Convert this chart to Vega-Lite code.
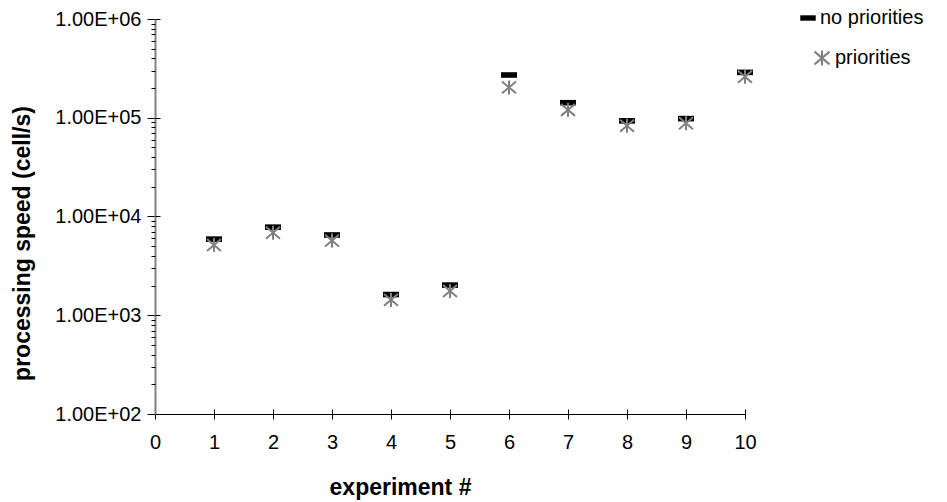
{
  "$schema": "https://vega.github.io/schema/vega-lite/v6.json",
  "autosize": {"type": "none"},
  "width": 590,
  "height": 395,
  "padding": {"left": 155, "top": 19, "right": 202, "bottom": 88},
  "background": "white",
  "config": {
    "view": {"stroke": null},
    "font": "Liberation Sans",
    "axis": {"labelFont": "Liberation Sans", "titleFont": "Liberation Sans", "labelColor": "black", "titleColor": "black", "tickColor": "black", "grid": false},
    "legend": {"labelFont": "Liberation Sans", "labelColor": "black"}
  },
  "data": {
    "values": [
      {"experiment": 1, "series": "no priorities", "speed": 5900},
      {"experiment": 2, "series": "no priorities", "speed": 7800},
      {"experiment": 3, "series": "no priorities", "speed": 6500},
      {"experiment": 4, "series": "no priorities", "speed": 1620},
      {"experiment": 5, "series": "no priorities", "speed": 2020},
      {"experiment": 6, "series": "no priorities", "speed": 271000},
      {"experiment": 7, "series": "no priorities", "speed": 142000},
      {"experiment": 8, "series": "no priorities", "speed": 93000},
      {"experiment": 9, "series": "no priorities", "speed": 98000},
      {"experiment": 10, "series": "no priorities", "speed": 288000},
      {"experiment": 1, "series": "priorities", "speed": 5150},
      {"experiment": 2, "series": "priorities", "speed": 6850},
      {"experiment": 3, "series": "priorities", "speed": 5700},
      {"experiment": 4, "series": "priorities", "speed": 1430},
      {"experiment": 5, "series": "priorities", "speed": 1760},
      {"experiment": 6, "series": "priorities", "speed": 203000},
      {"experiment": 7, "series": "priorities", "speed": 120000},
      {"experiment": 8, "series": "priorities", "speed": 83000},
      {"experiment": 9, "series": "priorities", "speed": 88000},
      {"experiment": 10, "series": "priorities", "speed": 260000}
    ]
  },
  "layer": [
    {
      "transform": [{"filter": "datum.series === 'no priorities'"}],
      "mark": {"type": "point", "filled": true, "opacity": 1, "size": 256, "strokeWidth": 0},
      "encoding": {
        "x": {
          "field": "experiment", "type": "quantitative",
          "scale": {"domain": [0, 10], "nice": false, "zero": false},
          "axis": {
            "orient": "bottom", "values": [0,1,2,3,4,5,6,7,8,9,10], "tickSize": 5, "domainColor": "black", "domainWidth": 1,
            "labelFontSize": 20, "labelPadding": 13, "labelFlush": false,
            "title": "experiment #", "titleFontSize": 23, "titleFontWeight": "bold", "titleX": 245, "titleY": 73, "titleBaseline": "middle", "titleAlign": "center"
          }
        },
        "y": {
          "field": "speed", "type": "quantitative",
          "scale": {"type": "log", "domain": [100, 1000000], "nice": false},
          "axis": {
            "orient": "left", "values": [100, 1000, 10000, 100000, 1000000], "tickSize": 8, "domainColor": "#808080", "domainWidth": 2,
            "labelFontSize": 20, "labelPadding": 6, "labelFlush": false,
            "labelExpr": "'1.00E+0' + round(log(datum.value) / LN10)",
            "title": "processing speed (cell/s)", "titleFontSize": 23, "titleFontWeight": "bold", "titleX": -133, "titleY": 224, "titleAngle": 270, "titleBaseline": "middle", "titleAlign": "center"
          }
        },
        "color": {
          "field": "series", "type": "nominal",
          "scale": {"domain": ["no priorities"], "range": ["black"]},
          "legend": {"orient": "none", "legendX": 643, "legendY": -11, "title": null, "labelFontSize": 20, "labelOffset": 2, "symbolSize": 240, "padding": 0, "symbolStrokeWidth": 0}
        },
        "shape": {
          "field": "series", "type": "nominal",
          "scale": {"domain": ["no priorities"], "range": ["M-1,-0.35H1V0.35H-1Z"]},
          "legend": {"orient": "none", "legendX": 643, "legendY": -11, "title": null, "labelFontSize": 20, "labelOffset": 2, "symbolSize": 240, "padding": 0, "symbolStrokeWidth": 0}
        }
      }
    },
    {
      "transform": [{"filter": "datum.series === 'priorities'"}],
      "mark": {"type": "point", "filled": false, "opacity": 1, "size": 196, "strokeWidth": 2},
      "encoding": {
        "x": {
          "field": "experiment", "type": "quantitative",
          "axis": {"orient": "bottom", "values": [0,1,2,3,4,5,6,7,8,9,10], "tickSize": -5, "labels": false, "domain": false, "title": null}
        },
        "y": {
          "field": "speed", "type": "quantitative",
          "axis": {"orient": "left", "values": [200,300,400,500,600,700,800,900,2000,3000,4000,5000,6000,7000,8000,9000,20000,30000,40000,50000,60000,70000,80000,90000,200000,300000,400000,500000,600000,700000,800000,900000], "tickSize": 4, "labels": false, "domain": false, "title": null}
        },
        "color": {
          "field": "series", "type": "nominal",
          "scale": {"domain": ["priorities"], "range": ["#808080"]},
          "legend": {"orient": "none", "legendX": 657, "legendY": 29, "title": null, "labelFontSize": 20, "labelOffset": 3, "symbolSize": 225, "padding": 0, "symbolStrokeWidth": 2}
        },
        "shape": {
          "field": "series", "type": "nominal",
          "scale": {"domain": ["priorities"], "range": ["M-1,-0.85L1,0.85M-1,0.85L1,-0.85M0,-1V1"]},
          "legend": {"orient": "none", "legendX": 657, "legendY": 29, "title": null, "labelFontSize": 20, "labelOffset": 3, "symbolSize": 225, "padding": 0, "symbolStrokeWidth": 2}
        }
      }
    },
    {
      "mark": {"type": "point", "opacity": 0},
      "encoding": {
        "x": {"field": "experiment", "type": "quantitative", "axis": null},
        "y": {
          "field": "speed", "type": "quantitative",
          "axis": {"orient": "left", "values": [100, 1000, 10000, 100000, 1000000], "tickSize": -5, "labels": false, "domain": false, "title": null}
        }
      }
    }
  ],
  "resolve": {
    "scale": {"color": "independent", "shape": "independent"},
    "axis": {"x": "independent", "y": "independent"}
  }
}
